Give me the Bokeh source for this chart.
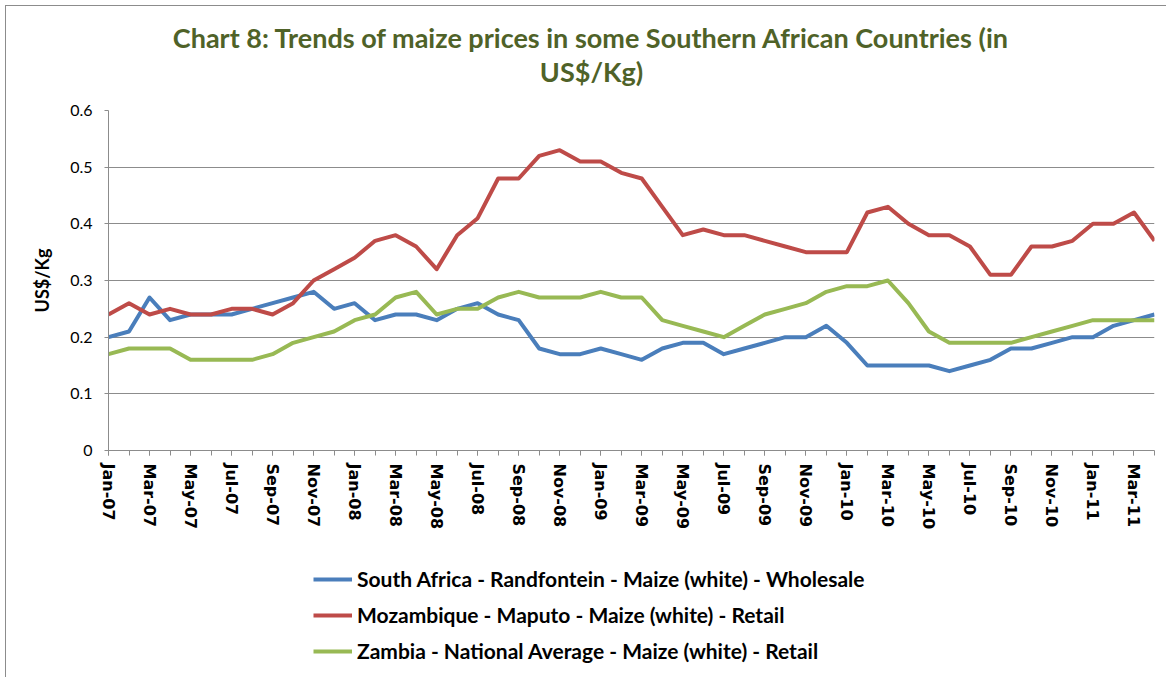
from bokeh.plotting import figure
from bokeh.layouts import column
from bokeh.models import Range1d, FixedTicker, Legend, LegendItem, Label, CustomJSTickFormatter
from bokeh.embed import file_html
from bokeh.resources import INLINE

months = ["Jan-07", "Feb-07", "Mar-07", "Apr-07", "May-07", "Jun-07", "Jul-07", "Aug-07", "Sep-07", "Oct-07", "Nov-07", "Dec-07",
          "Jan-08", "Feb-08", "Mar-08", "Apr-08", "May-08", "Jun-08", "Jul-08", "Aug-08", "Sep-08", "Oct-08", "Nov-08", "Dec-08",
          "Jan-09", "Feb-09", "Mar-09", "Apr-09", "May-09", "Jun-09", "Jul-09", "Aug-09", "Sep-09", "Oct-09", "Nov-09", "Dec-09",
          "Jan-10", "Feb-10", "Mar-10", "Apr-10", "May-10", "Jun-10", "Jul-10", "Aug-10", "Sep-10", "Oct-10", "Nov-10", "Dec-10",
          "Jan-11", "Feb-11", "Mar-11", "Apr-11"]

south_africa = [0.20, 0.21, 0.27, 0.23, 0.24, 0.24, 0.24, 0.25, 0.26, 0.27, 0.28, 0.25,
                0.26, 0.23, 0.24, 0.24, 0.23, 0.25, 0.26, 0.24, 0.23, 0.18, 0.17, 0.17,
                0.18, 0.17, 0.16, 0.18, 0.19, 0.19, 0.17, 0.18, 0.19, 0.20, 0.20, 0.22,
                0.19, 0.15, 0.15, 0.15, 0.15, 0.14, 0.15, 0.16, 0.18, 0.18, 0.19, 0.20,
                0.20, 0.22, 0.23, 0.24]

mozambique = [0.24, 0.26, 0.24, 0.25, 0.24, 0.24, 0.25, 0.25, 0.24, 0.26, 0.30, 0.32,
              0.34, 0.37, 0.38, 0.36, 0.32, 0.38, 0.41, 0.48, 0.48, 0.52, 0.53, 0.51,
              0.51, 0.49, 0.48, 0.43, 0.38, 0.39, 0.38, 0.38, 0.37, 0.36, 0.35, 0.35,
              0.35, 0.42, 0.43, 0.40, 0.38, 0.38, 0.36, 0.31, 0.31, 0.36, 0.36, 0.37,
              0.40, 0.40, 0.42, 0.37]

zambia = [0.17, 0.18, 0.18, 0.18, 0.16, 0.16, 0.16, 0.16, 0.17, 0.19, 0.20, 0.21,
          0.23, 0.24, 0.27, 0.28, 0.24, 0.25, 0.25, 0.27, 0.28, 0.27, 0.27, 0.27,
          0.28, 0.27, 0.27, 0.23, 0.22, 0.21, 0.20, 0.22, 0.24, 0.25, 0.26, 0.28,
          0.29, 0.29, 0.30, 0.26, 0.21, 0.19, 0.19, 0.19, 0.19, 0.20, 0.21, 0.22,
          0.23, 0.23, 0.23, 0.23]

series_names = ["South Africa - Randfontein - Maize (white) - Wholesale",
                "Mozambique - Maputo - Maize (white) - Retail",
                "Zambia - National Average - Maize (white) - Retail"]
series_colors = ["#4A7EBB", "#BE4B48", "#98B954"]
y_ticks = [0, 0.1, 0.2, 0.3, 0.4, 0.5, 0.6]
title_lines = ["Chart 8: Trends of maize prices in some Southern African Countries (in", "US$/Kg)"]
y_label = "US$/Kg"

W = 1160
x = list(range(len(months)))


def blank(fig):
    fig.axis.visible = False
    fig.grid.visible = False
    fig.outline_line_color = None
    fig.background_fill_color = "white"
    fig.border_fill_color = "white"


# ---- title strip (frame is aligned with the main chart's frame) ----
t = figure(width=W, height=94, output_backend="svg", toolbar_location=None,
           x_range=Range1d(0, 1), y_range=Range1d(0, 1),
           min_border=0, min_border_left=0, min_border_right=0, min_border_top=0, min_border_bottom=0)
blank(t)
for txt, yy in zip(title_lines, [63, 29]):
    t.add_layout(Label(x=483, y=yy, x_units="screen", y_units="screen", text=txt,
                       text_align="center", text_baseline="middle",
                       text_font="Lato", text_font_style="bold",
                       text_font_size="27px", text_color="#4F6228"))

# ---- main chart ----
p = figure(width=W, height=440, output_backend="svg", toolbar_location=None,
           x_range=Range1d(0, len(months) - 1), y_range=Range1d(0, 0.6),
           min_border_left=102, min_border_right=12, min_border_top=10, min_border_bottom=90)
p.outline_line_color = None
p.background_fill_color = "white"
p.border_fill_color = "white"

for vals, col in zip([south_africa, mozambique, zambia], series_colors):
    p.line(x, vals, line_color=col, line_width=4, line_join="round")

grey = "#8C8C8C"
p.xaxis.ticker = FixedTicker(ticks=list(range(0, len(months), 2)), minor_ticks=x)
p.xaxis.major_label_overrides = {i: months[i] for i in range(0, len(months), 2)}
p.xaxis.major_label_orientation = "vertical"
p.xaxis.major_label_text_font = "DejaVu Sans"
p.xaxis.major_label_text_font_style = "bold"
p.xaxis.major_label_text_font_size = "16px"
p.xaxis.major_label_text_color = "black"
p.xaxis.major_label_standoff = 8
p.xaxis.axis_line_color = grey
p.xaxis.major_tick_line_color = grey
p.xaxis.minor_tick_line_color = grey
p.xaxis.major_tick_out = 5
p.xaxis.major_tick_in = 0
p.xaxis.minor_tick_out = 5
p.xaxis.minor_tick_in = 0
p.xgrid.visible = False

p.yaxis.ticker = FixedTicker(ticks=y_ticks)
p.yaxis.formatter = CustomJSTickFormatter(code="return tick.toFixed(1).replace(/\\.0$/, '')")
p.yaxis.major_label_text_font = "Lato"
p.yaxis.major_label_text_font_size = "16px"
p.yaxis.major_label_text_color = "black"
p.yaxis.major_label_standoff = 12
p.yaxis.axis_line_color = grey
p.yaxis.major_tick_line_color = grey
p.yaxis.major_tick_out = 4
p.yaxis.major_tick_in = 0
p.yaxis.minor_tick_line_color = None
p.yaxis.axis_label = y_label
p.yaxis.axis_label_text_font = "Lato"
p.yaxis.axis_label_text_font_style = "bold"
p.yaxis.axis_label_text_font_size = "18px"
p.yaxis.axis_label_text_color = "black"
p.yaxis.axis_label_standoff = 14
p.ygrid.ticker = FixedTicker(ticks=y_ticks)
p.ygrid.grid_line_color = grey
p.ygrid.grid_line_width = 1.2

# ---- legend strip ----
lg = figure(width=W, height=137, output_backend="svg", toolbar_location=None,
            x_range=Range1d(0, 1), y_range=Range1d(0, 1),
            min_border=0, min_border_left=0, min_border_right=0, min_border_top=0, min_border_bottom=0)
blank(lg)
items = []
nan = float("nan")
for n, col in zip(series_names, series_colors):
    r = lg.line([nan, nan], [nan, nan], line_color=col, line_width=4)
    items.append(LegendItem(label=n, renderers=[r]))
legend = Legend(items=items, location=(205, 14), orientation="vertical",
                border_line_color=None, background_fill_alpha=0,
                padding=0, margin=0, spacing=11, label_height=22, glyph_height=22,
                glyph_width=39, label_standoff=5,
                label_text_font="Lato", label_text_font_style="bold",
                label_text_font_size="21px", label_text_color="black")
lg.add_layout(legend, "center")

layout = column(t, p, lg, spacing=0, margin=(5, 0, 0, 5),
                styles={"border-left": "1px solid #8C8C8C", "border-top": "1px solid #8C8C8C"})
open("out.html", "w").write(file_html(layout, INLINE))
